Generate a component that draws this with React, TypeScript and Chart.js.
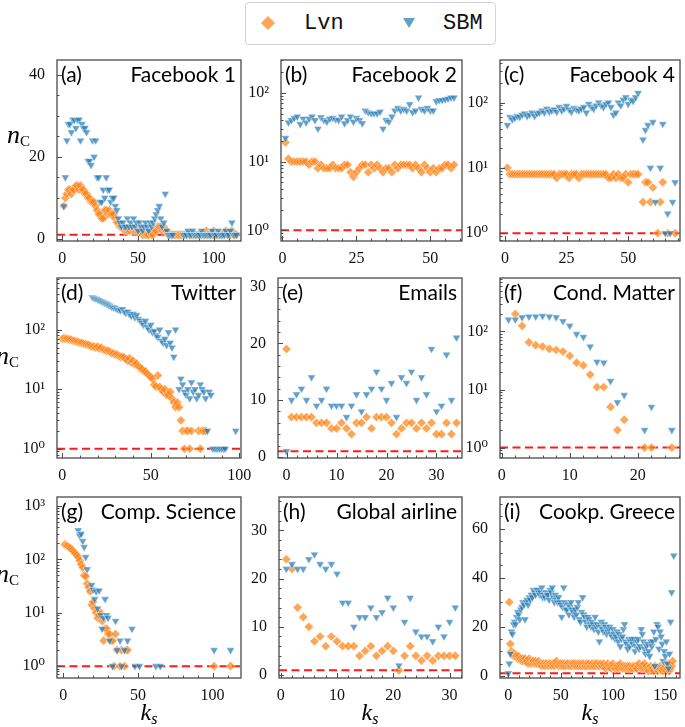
import React, { useEffect, useRef } from 'react';
import { Chart, registerables } from 'chart.js';

Chart.register(...registerables);

type V = number | null;
const _ = null;

// ---------------- DATA (array index = k_s) ----------------
// (a) Facebook 1
const fb1Lvn: V[] = [
  _, 8, 10, 11, 12, 12, 11, 12, 12, 13,
  13, 12, 13, 12, 12, 11, 11, 10, 10, 9,
  9, 9, 8, 7, 6, 6, 5, 5, 7, 7,
  6, 7, 6, 6, 6, 5, 4, 4, 3, 3,
  3, 2, 2, 2, 2, 2, 3, 2, 2, 2,
  2, 2, 2, 1, 2, 1, 1, 1, 2, 1,
  1, 2, 2, 3, 3, 3, 2, 3, 2, 2,
  1, 1, 1, 1, 1, 1, 1, 1, 1, 1,
  1, 1, 1, 1, 1, 1, 1, 1, 1, 1,
  1, 1, 1, 1, 1, 2, 1, 1, 1, 1,
  2, 1, 1, 1, 1, 1, 1, 1, 2, 1,
  1, 1, 2, 1, 1, 1,
];
const fb1Sbm: V[] = [
  _, 8, 15, 24, 28, 28, 26, 29, 29, 27,
  29, 29, 24, 28, 27, 27, 26, 19, 19, 18,
  24, 20, 24, 15, 15, 9, 9, 12, 10, 15,
  12, 12, 9, 10, 10, 8, 7, 5, 4, 3,
  4, 3, 3, 5, 3, 4, 3, 5, 3, 4,
  2, 4, 3, 2, 3, 4, 3, 2, 4, 3,
  4, 5, 6, 7, 8, 5, 3, 4, 11, 2,
  1, 1, 1, 1, _, _, _, _, _, _,
  1, 1, 1, 2, 1, 1, 2, 1, 1, 1,
  1, 1, 2, 1, 1, 1, 1, 1, 1, 2,
  1, 1, 1, 2, 1, 1, 1, 1, 2, 1,
  1, 2, 4, 1, 1, 1,
];
// (b) Facebook 2
const fb2Lvn: V[] = [
  _, 19, 11, 10, 10, 10, 10, 10, 10, 9,
  10, 10, 8, 9, 8, 8, 8, 9, 8, 8,
  8, 9, 9, 7, 6, 7, 8, 9, 9, 7,
  9, 8, 9, 8, 7, 8, 8, 7, 9, 8,
  9, 9, 9, 9, 8, 9, 8, 7, 9, 8,
  7, 8, 7, 8, 8, 9, 9, 8, 9,
];
const fb2Sbm: V[] = [
  _, 22, 37, 40, 43, 45, 35, 42, 37, 42,
  45, 40, 30, 44, 40, 38, 42, 43, 41, 40,
  45, 36, 40, 45, 38, 43, 40, 36, 55, 52,
  50, 50, 50, 53, 30, 40, 38, 45, 55, 60,
  55, 58, 55, 68, 52, 55, 85, 58, 55, 60,
  55, 55, 75, 78, 78, 80, 82, 85, 85,
];
// (c) Facebook 4
const fb4Lvn: V[] = [
  _, 10, 8, 8, 8, 8, 8, 8, 8, 8,
  8, 8, 8, 8, 8, 8, 8, 8, 8, 8,
  8, 7, 8, 8, 8, 8, 7, 8, 8, 8,
  7, 8, 8, 8, 8, 8, 8, 8, 8, 8,
  8, 8, 7, 7, 8, 7, 8, 7, 7, 8,
  6, 8, 8, 8, 8, _, 3, 6, 6, 3,
  5, _, 1, 3, 6, _, 1, _, _, 1,
];
const fb4Sbm: V[] = [
  _, 45, 60, 55, 58, 62, 60, 65, 68, 62,
  65, 70, 62, 68, 70, 75, 70, 80, 72, 75,
  78, 72, 85, 75, 80, 88, 78, 72, 82, 78,
  75, 80, 85, 70, 95, 85, 80, 90, 100, 90,
  85, 95, 100, 85, 65, 70, 100, 90, 110, 120,
  95, 110, 105, 120, 140, _, 27, 38, 45, 10,
  50, 3, _, 10, 47, 1, 2, 1, 3, 6,
];
// (d) Twitter
const twLvn: V[] = [
  70, 72, 70, 70, 68, 68, 65, 65, 63, 62,
  60, 60, 58, 57, 56, 55, 53, 52, 52, 50,
  52, 48, 50, 46, 45, 44, 44, 42, 40, 40,
  38, 38, 36, 35, 35, 34, 32, 30, 33, 28,
  30, 26, 27, 24, 23, 22, 20, 20, 18, 17,
  16, 15, 12, 11, 17, 11, 10, 9, 10, 8,
  8, 9, 7, 6, 5, 6, 5, 3, 2, 1,
  2, 2, 1, 2, _, _, _, 2, 1, 2,
  2, 2,
];
const twSbm: V[] = [
  _, _, _, _, _, _, _, _, _, _,
  _, _, _, _, _, _, _, 350, 340, 330,
  320, 310, 300, 290, 280, 270, 260, 250, 240, 235,
  230, 220, 215, 210, 220, 200, 190, 200, 180, 170,
  185, 160, 175, 150, 140, 130, 120, 140, 110, 100,
  120, 90, 95, 80, 75, 100, 65, 60, 70, 55,
  90, 60, 50, 35, 100, _, 10, 15, 12, 9,
  8, 10, 7, 13, 9, 10, 7, 8, 12, 10,
  9, 7, 2, 9, 8, 1, 1, 1, 1, 1,
  1, 1, 1, _, _, _, _, _, 2,
];
// (e) Emails
const emLvn: V[] = [
  19, 7, 7, 7, 7, 7, 6, 6, 6, 5,
  5, 6, 5, 4, 6, 6, 7, 5, 7, 7,
  7, 6, 4, 5, 6, 6, 5, 6, 5, 6,
  4, 4, 6, 4, 6,
];
const emSbm: V[] = [
  1, 10, 11, 12, 10, 14, 9, 10, 12, 9,
  9, 9, 7, 9, 11, 8, 11, 12, 15, 12,
  10, 13, 7, 14, 13, 15, 10, 14, 11, 19,
  8, 9, 18, 10, 21,
];
// (f) Cond. Matter
const cmLvn: V[] = [
  _, _, 200, 125, 65, 58, 55, 50, 48, 45,
  38, 29, 26, 18, 11, 11, 5, 2, 3, _,
  _, 1, 1, _, _, 1,
];
const cmSbm: V[] = [
  _, 160, 160, 175, 180, 180, 185, 180, 175, 150,
  125, 90, 80, 55, 30, 29, 14, 6, 8, _,
  _, 2, 5, _, _, 2,
];
// (g) Comp. Science
const csLvn: V[] = [
  _, 190, 180, 175, 165, 160, 150, 140, 130, 120,
  110, 95, 80, 70, 50, 48, 35, 30, 25, 14,
  16, 12, 10, 8, 9, 10, 7, 3, 5, 5,
  4, 4, 3, 3, 1, 4, 2, _, 1, 2,
  _, 1, 2, 2, _, _, _, _, _, _,
  _, _, _, _, _, _, _, _, _, _,
  _, _, _, _, _, _, _, _, _, _,
  _, _, _, _, _, _, _, _, _, _,
  _, _, _, _, _, _, _, _, _, _,
  _, _, _, _, _, _, _, _, _, _,
  _, 1, _, _, _, _, _, _, _, _,
  _, _, 1,
];
const csSbm: V[] = [
  _, _, _, _, _, _, _, _, _, _,
  350, 280, 300, 220, 170, 110, 65, _, _, 33,
  27, 18, 25, 12, 26, 9, 5, 8, 18, 9,
  8, 3, _, 1, _, 7, 2, _, 3, 1,
  _, 2, _, 3, _, _, 5, _, 1, _,
  _, 1, _, _, _, _, _, _, _, _,
  _, _, 1, _, _, 1, _, _, _, _,
  _, _, _, _, _, _, _, _, _, _,
  _, _, _, _, _, _, _, _, _, _,
  _, _, _, _, _, _, _, _, _, _,
  _, 2, _, _, _, _, _, _, _, _,
  _, _, 2,
];
// (h) Global airline
const gaLvn: V[] = [
  _, 24, 22, 14, 12, 10, 7, 8, 6, 8,
  7, 6, 6, 6, 4, 5, 6, 4, 5, 6,
  5, 1, 4, 6, 4, 3, 4, 3, 4, 4,
  4, 4,
];
const gaSbm: V[] = [
  _, 22, 23, 22, 22, 24, 25, 23, 22, 23,
  21, 15, 15, 10, 12, 12, 14, 12, 13, 16,
  14, 2, 11, 16, 9, 8, 8, 7, 10, 8,
  11, 14,
];
// (i) Cookp. Greece
const grLvn: V[] = [
  _, 30, 13, 10, 9, 8, 9, 8, 8, 7,
  8, 7, 7, 6, 7, 6, 7, 6, 6, 5,
  7, 6, 5, 6, 6, 5, 6, 5, 5, 6,
  5, 5, 4, 5, 5, 4, 5, 5, 4, 5,
  5, 4, 5, 5, 4, 5, 6, 5, 4, 5,
  5, 4, 5, 4, 5, 4, 5, 5, 4, 5,
  4, 5, 5, 4, 5, 4, 5, 4, 5, 4,
  5, 4, 5, 4, 4, 5, 4, 5, 4, 4,
  5, 4, 4, 5, 4, 5, 4, 4, 5, 4,
  4, 5, 4, 3, 4, 5, 4, 4, 3, 4,
  5, 4, 3, 4, 4, 3, 4, 5, 4, 3,
  4, 3, 4, 3, 4, 3, 4, 3, 3, 4,
  3, 4, 3, 3, 4, 5, 4, 3, 4, 3,
  5, 3, 4, 3, 2, 3, 4, 3, 3, 2,
  4, 3, 3, 2, 3, 4, 3, 2, 3, 3,
  4, 2, 3, 5, 2, 3, 4, 6, _,
];
const grSbm: V[] = [
  1, 5, 9, 18, 17, 21, 22, 21, 24, 26,
  25, 23, 27, 28, 30, 29, 23, 30, 31, 29,
  32, 31, 33, 32, 35, 34, 33, 35, 35, 34,
  33, 34, 36, 32, 33, 32, 34, 33, 33, 31,
  35, 34, 36, 32, 30, 33, 31, 30, 32, 30,
  29, 24, 28, 36, 30, 27, 27, 29, 25, 28,
  30, 27, 26, 24, 27, 25, 28, 30, 23, 22,
  26, 32, 25, 24, 22, 20, 24, 23, 21, 20,
  22, 21, 19, 24, 20, 21, 18, 14, 20, 22,
  19, 18, 21, 20, 17, 18, 19, 20, 17, 16,
  19, 17, 15, 16, 18, 14, 17, 12, 15, 16,
  19, 21, 14, 13, 11, 15, 12, 14, 15, 13,
  15, 10, 12, 14, 15, 11, 12, 19, 17, 14,
  11, 9, 12, 13, 10, 8, 14, 12, 14, 18,
  4, 15, 21, 20, 11, 18, 16, 13, 6, 10,
  8, 14, 5, 3, 9, 22, 34, _, 49,
];

// tick values
const xTicks0_50_100 = [0, 50, 100];
const xTicks0_25_50 = [0, 25, 50];
const xTicks0_10_30 = [0, 10, 20, 30];
const xTicks0_10_20 = [0, 10, 20];
const xTicks0_150 = [0, 50, 100, 150];
const yTicks0_40 = [0, 20, 40];
const yTicks0_30 = [0, 10, 20, 30];
const yTicks0_60 = [0, 20, 40, 60];
const yTicksLog2 = [1, 10, 100];
const yTicksLog3 = [1, 10, 100, 1000];

// ---------------- STYLE ----------------
const ORANGE = 'rgba(255,127,14,0.7)';
const BLUE = 'rgba(31,119,180,0.7)';
const EDGE = 'rgba(255,255,255,0.7)';
const SPINE = '#4a4a4a';
const SERIF = "'Liberation Serif', 'DejaVu Serif', serif";
const SANS = "Lato, 'Open Sans', sans-serif";

interface Panel {
  tag: string; name: string;
  lvn: V[]; sbm: V[];
  rect: [number, number, number, number];
  x: [number, number]; xt: number[]; xMinor: number;
  log: boolean; y: [number, number]; yt: number[]; yMinor: number;
}

const panels: Panel[] = [
  { tag: '(a)', name: 'Facebook 1', lvn: fb1Lvn, sbm: fb1Sbm, rect: [57, 60, 241, 241], x: [-3.5, 118], xt: xTicks0_50_100, xMinor: 10, log: false, y: [-0.5, 43.6], yt: yTicks0_40, yMinor: 5 },
  { tag: '(b)', name: 'Facebook 2', lvn: fb2Lvn, sbm: fb2Sbm, rect: [281, 60, 462, 241], x: [-0.5, 60.7], xt: xTicks0_25_50, xMinor: 5, log: true, y: [0.74, 300], yt: yTicksLog2, yMinor: 0 },
  { tag: '(c)', name: 'Facebook 4', lvn: fb4Lvn, sbm: fb4Sbm, rect: [500, 60, 680, 241], x: [-2, 71], xt: xTicks0_25_50, xMinor: 5, log: true, y: [0.76, 447], yt: yTicksLog2, yMinor: 0 },
  { tag: '(d)', name: 'Twitter', lvn: twLvn, sbm: twSbm, rect: [57, 278, 241, 458], x: [-3, 101], xt: xTicks0_50_100, xMinor: 10, log: true, y: [0.71, 735], yt: yTicksLog2, yMinor: 0 },
  { tag: '(e)', name: 'Emails', lvn: emLvn, sbm: emSbm, rect: [278, 278, 462, 458], x: [-1.7, 35.1], xt: xTicks0_10_30, xMinor: 2, log: false, y: [-0.2, 31.5], yt: yTicks0_30, yMinor: 2 },
  { tag: '(f)', name: 'Cond. Matter', lvn: cmLvn, sbm: cmSbm, rect: [500, 278, 680, 458], x: [-0.25, 26.2], xt: xTicks0_10_20, xMinor: 2, log: true, y: [0.66, 835], yt: yTicksLog2, yMinor: 0 },
  { tag: '(g)', name: 'Comp. Science', lvn: csLvn, sbm: csSbm, rect: [57, 497, 241, 678], x: [-4.2, 119], xt: xTicks0_50_100, xMinor: 10, log: true, y: [0.64, 1470], yt: yTicksLog3, yMinor: 0 },
  { tag: '(h)', name: 'Global airline', lvn: gaLvn, sbm: gaSbm, rect: [279, 497, 462, 678], x: [-0.3, 32.2], xt: xTicks0_10_30, xMinor: 2, log: false, y: [-0.6, 36.9], yt: yTicks0_30, yMinor: 2 },
  { tag: '(i)', name: 'Cookp. Greece', lvn: grLvn, sbm: grSbm, rect: [500, 497, 680, 678], x: [-7.9, 164], xt: xTicks0_150, xMinor: 10, log: false, y: [-0.9, 72.9], yt: yTicks0_60, yMinor: 5 },
];

const SUP: Record<string, string> = { '0': '⁰', '1': '¹', '2': '²', '3': '³', '-': '⁻' };
const logLabel = (v: number) =>
  '10' + String(Math.round(Math.log10(v))).split('').map((c) => SUP[c]).join('');

function toPoints(vals: V[]) {
  const out: { x: number; y: number }[] = [];
  vals.forEach((v, i) => { if (v != null) out.push({ x: i, y: v }); });
  return out;
}

function linMinor(min: number, max: number, step: number, majors: number[]) {
  const out: number[] = [];
  for (let i = Math.ceil(min / step); i * step <= max; i++) {
    const v = i * step;
    if (!majors.some((m) => Math.abs(m - v) < 1e-9)) out.push(v);
  }
  return out;
}
function logMinor(min: number, max: number) {
  const out: number[] = [];
  for (let d = Math.floor(Math.log10(min)); d <= Math.ceil(Math.log10(max)); d++) {
    for (let k = 2; k <= 9; k++) {
      const v = k * Math.pow(10, d);
      if (v >= min && v <= max) out.push(v);
    }
  }
  return out;
}

const YW = 50, TP = 14, RP = 26, XH = 26;

function PanelChart({ p }: { p: Panel }) {
  const ref = useRef<HTMLCanvasElement>(null);
  const [L, T, R, B] = p.rect;
  const w = YW + (R - L) + RP;
  const h = TP + (B - T) + XH;

  useEffect(() => {
    const xMinorVals = linMinor(p.x[0], p.x[1], p.xMinor, p.xt);
    const yMinorVals = p.log ? logMinor(p.y[0], p.y[1]) : linMinor(p.y[0], p.y[1], p.yMinor, p.yt);
    const frame = {
      id: 'frame',
      afterDatasetsDraw(chart: any) {
        const { ctx, chartArea: ca, scales } = chart;
        const xs = scales.x, ys = scales.y;
        ctx.save();
        ctx.strokeStyle = SPINE;
        ctx.lineWidth = 1;
        const xt = (v: number, len: number) => {
          if (v < p.x[0] || v > p.x[1]) return;
          const X = Math.round(xs.getPixelForValue(v)) + 0.5;
          ctx.beginPath(); ctx.moveTo(X, ca.bottom); ctx.lineTo(X, ca.bottom - len); ctx.stroke();
        };
        const yt = (v: number, len: number) => {
          if (v < p.y[0] || v > p.y[1]) return;
          const Y = Math.round(ys.getPixelForValue(v)) + 0.5;
          ctx.beginPath(); ctx.moveTo(ca.left, Y); ctx.lineTo(ca.left + len, Y); ctx.stroke();
        };
        p.xt.forEach((v) => xt(v, 5));
        xMinorVals.forEach((v) => xt(v, 2.5));
        p.yt.forEach((v) => yt(v, 5));
        yMinorVals.forEach((v) => yt(v, 2.5));
        ctx.lineWidth = 1.3;
        ctx.strokeRect(ca.left, ca.top, ca.right - ca.left, ca.bottom - ca.top);
        ctx.restore();
      },
    };
    const tickFont = { family: SERIF, size: 16, lineHeight: 1 };
    const chart = new Chart(ref.current as HTMLCanvasElement, {
      type: 'scatter',
      data: {
        datasets: [
          {
            type: 'scatter', label: 'SBM', data: toPoints(p.sbm), order: 0,
            pointStyle: 'triangle', pointRotation: 180, pointRadius: 4.6,
            pointBackgroundColor: BLUE, pointBorderColor: EDGE, pointBorderWidth: 0.6,
            backgroundColor: BLUE, borderColor: EDGE,
          },
          {
            type: 'scatter', label: 'Lvn', data: toPoints(p.lvn), order: 1,
            pointStyle: 'rectRot', pointRadius: 4.6,
            pointBackgroundColor: ORANGE, pointBorderColor: EDGE, pointBorderWidth: 0.6,
            backgroundColor: ORANGE, borderColor: EDGE,
          },
          {
            type: 'line', label: 'ref', order: 2, showLine: true,
            data: [{ x: p.x[0], y: 1 }, { x: p.x[1], y: 1 }],
            borderColor: '#ff1a1a', borderWidth: 2, borderDash: [8, 4.5], pointRadius: 0,
          },
        ] as any,
      },
      options: {
        responsive: false,
        animation: false,
        events: [],
        layout: { padding: { left: 0, top: TP, right: RP, bottom: 0 } },
        plugins: { legend: { display: false }, tooltip: { enabled: false } },
        scales: {
          x: {
            type: 'linear', min: p.x[0], max: p.x[1],
            grid: { display: false }, border: { display: false },
            afterBuildTicks: (s: any) => { s.ticks = p.xt.map((v) => ({ value: v })); },
            afterFit: (s: any) => { s.height = XH; },
            ticks: { font: tickFont, color: '#111', padding: 2, maxRotation: 0, autoSkip: false, callback: (v: any) => String(v) },
          },
          y: {
            type: p.log ? 'logarithmic' : 'linear', min: p.y[0], max: p.y[1],
            grid: { display: false }, border: { display: false },
            afterBuildTicks: (s: any) => { s.ticks = p.yt.map((v) => ({ value: v })); },
            afterFit: (s: any) => { s.width = YW; },
            ticks: { font: tickFont, color: '#111', padding: 4, autoSkip: false, callback: (v: any) => (p.log ? logLabel(Number(v)) : String(v)) },
          },
        } as any,
      },
      plugins: [frame],
    } as any);
    return () => chart.destroy();
  }, []);

  return (
    <canvas
      ref={ref}
      width={w}
      height={h}
      style={{ position: 'absolute', left: L - YW, top: T - TP, width: w, height: h }}
    />
  );
}

const titleStyle: React.CSSProperties = {
  position: 'absolute', fontFamily: SANS, fontSize: 21, lineHeight: '21px', color: '#000', whiteSpace: 'nowrap',
};

const yLabelPos = [
  { left: 7, top: 122 },
  { left: -4, top: 343 },
  { left: -4, top: 561 },
];
const xLabelCenters = [149, 370, 590];

export default function App() {
  return (
    <div style={{ position: 'absolute', left: 0, top: 0, width: 685, height: 727, overflow: 'hidden', background: '#fff' }}>
      {panels.map((p, i) => (
        <PanelChart key={i} p={p} />
      ))}
      {panels.map((p, i) => (
        <React.Fragment key={'t' + i}>
          <div style={{ ...titleStyle, left: p.rect[0] + 4, top: p.rect[1] + 3 }}>{p.tag}</div>
          <div style={{ ...titleStyle, right: 685 - (p.rect[2] - 5), top: p.rect[1] + 3 }}>{p.name}</div>
        </React.Fragment>
      ))}
      {yLabelPos.map((pos, i) => (
        <div key={'yl' + i} style={{ position: 'absolute', left: pos.left, top: pos.top, fontFamily: SERIF, fontSize: 26, lineHeight: '26px', whiteSpace: 'nowrap', color: '#000' }}>
          <i>n</i>
          <span style={{ fontSize: 15, position: 'relative', top: 3 }}>C</span>
        </div>
      ))}
      {xLabelCenters.map((cx, i) => (
        <div key={'xl' + i} style={{ position: 'absolute', left: cx - 30, width: 60, top: 700, textAlign: 'center', fontFamily: SERIF, fontSize: 24, lineHeight: '24px', whiteSpace: 'nowrap', color: '#000' }}>
          <i>k</i>
          <i style={{ fontSize: 16, position: 'relative', top: 4 }}>s</i>
        </div>
      ))}
      <div style={{ position: 'absolute', left: 245, top: 2, width: 251, height: 43, boxSizing: 'border-box', border: '1px solid #d3d3d3', borderRadius: 4, background: '#fff' }}>
        <div style={{ position: 'absolute', left: 17, top: 15, width: 10, height: 10, background: '#ffa556', transform: 'rotate(45deg)' }} />
        <div style={{ position: 'absolute', left: 58, top: 10, fontFamily: "'Liberation Mono', 'DejaVu Sans Mono', monospace", fontSize: 22, lineHeight: '22px', color: '#111' }}>Lvn</div>
        <div style={{ position: 'absolute', left: 157, top: 15, width: 0, height: 0, borderLeft: '6px solid transparent', borderRight: '6px solid transparent', borderTop: '10px solid #62a0ca' }} />
        <div style={{ position: 'absolute', left: 197, top: 10, fontFamily: "'Liberation Mono', 'DejaVu Sans Mono', monospace", fontSize: 22, lineHeight: '22px', color: '#111' }}>SBM</div>
      </div>
    </div>
  );
}
